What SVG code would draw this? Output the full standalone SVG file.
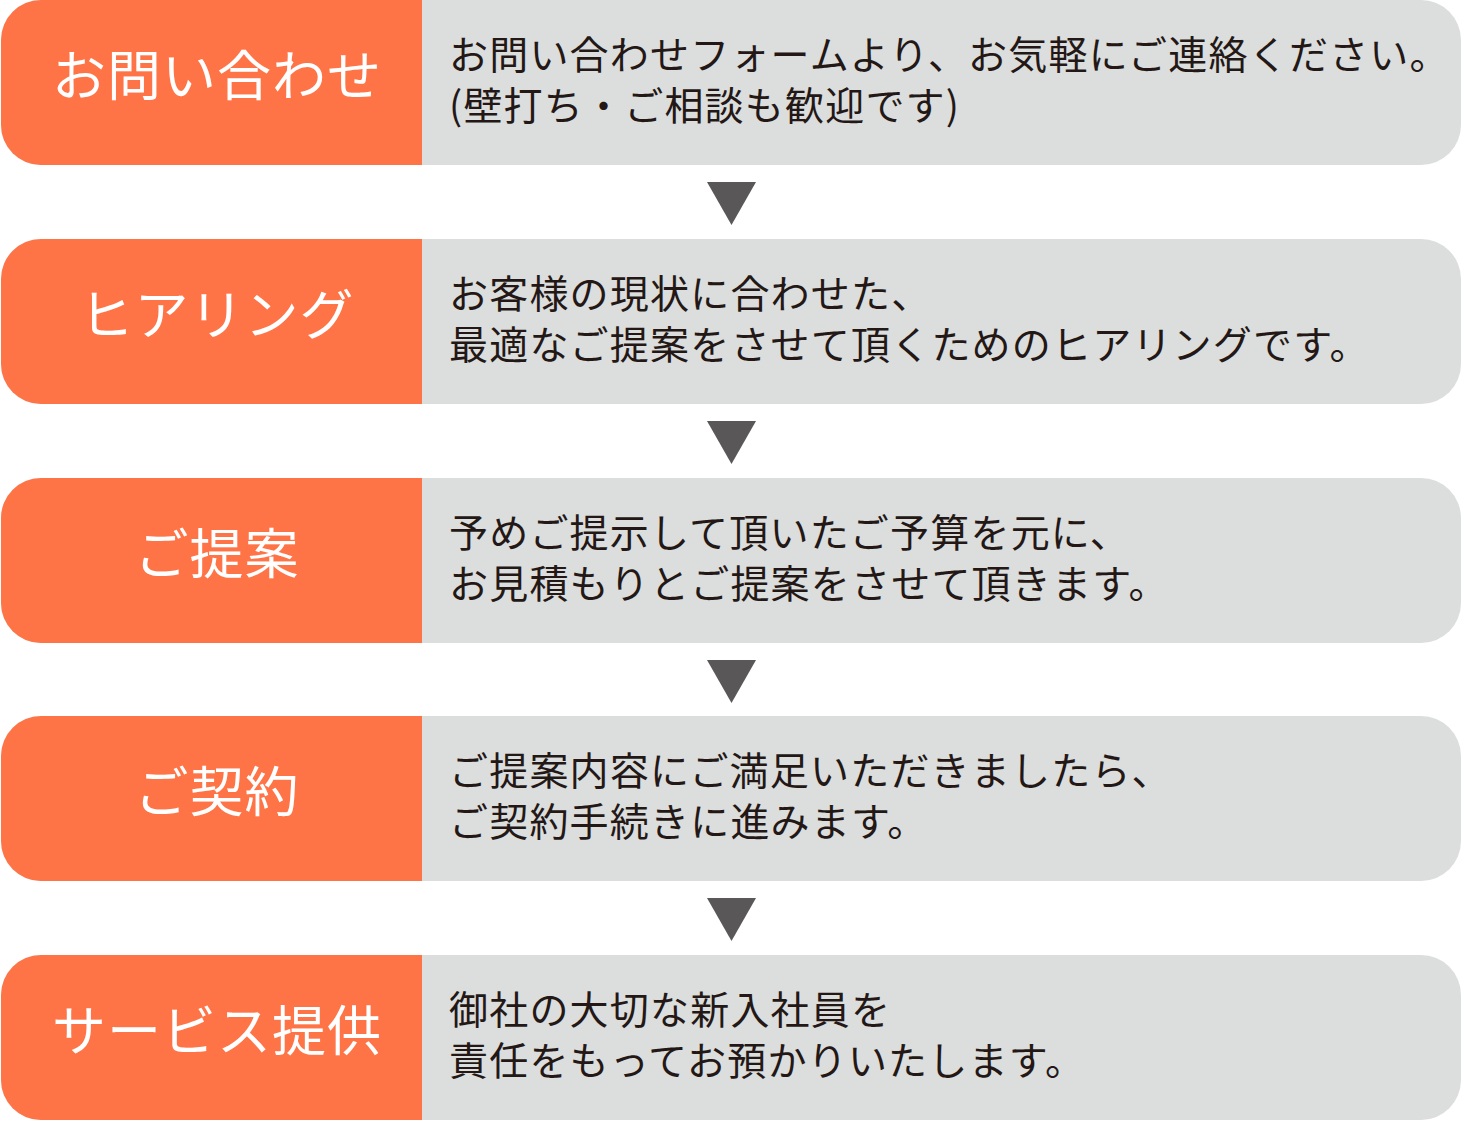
<svg xmlns="http://www.w3.org/2000/svg" width="1462" height="1121" viewBox="0 0 1462 1121">
<defs>
<style>
.bg{fill:#dcdddd}
.lab{fill:#ff7447}
.lt{font-family:"Noto Sans CJK JP","Noto Sans",sans-serif;font-size:54px;letter-spacing:1px;fill:#ffffff;text-anchor:middle}
.dt{font-family:"Noto Sans CJK JP","Noto Sans",sans-serif;font-size:39px;letter-spacing:1.2px;fill:#231815}
.arr{fill:#595757}
</style>
<path id="orange" d="M422,0 H41 A40,40 0 0 0 1,40 V125 A40,40 0 0 0 41,165 H422 Z"/>
</defs>
<g id="step1" transform="translate(0,0)">
<rect class="bg" x="1" y="0" width="1460" height="165" rx="40" ry="40"/>
<use href="#orange" class="lab"/>
<text class="lt" x="217" y="96">お問い合わせ</text>
<text class="dt" x="449" y="69">お問い合わせフォームより、お気軽にご連絡ください。</text>
<text class="dt" x="449" y="120">(壁打ち・ご相談も歓迎です)</text>
</g>
<g id="step2" transform="translate(0,239)">
<rect class="bg" x="1" y="0" width="1460" height="165" rx="40" ry="40"/>
<use href="#orange" class="lab"/>
<text class="lt" x="217" y="96">ヒアリング</text>
<text class="dt" x="449" y="69">お客様の現状に合わせた、</text>
<text class="dt" x="449" y="120">最適なご提案をさせて頂くためのヒアリングです。</text>
</g>
<g id="step3" transform="translate(0,478)">
<rect class="bg" x="1" y="0" width="1460" height="165" rx="40" ry="40"/>
<use href="#orange" class="lab"/>
<text class="lt" x="217" y="96">ご提案</text>
<text class="dt" x="449" y="69">予めご提示して頂いたご予算を元に、</text>
<text class="dt" x="449" y="120">お見積もりとご提案をさせて頂きます。</text>
</g>
<g id="step4" transform="translate(0,716)">
<rect class="bg" x="1" y="0" width="1460" height="165" rx="40" ry="40"/>
<use href="#orange" class="lab"/>
<text class="lt" x="217" y="96">ご契約</text>
<text class="dt" x="449" y="69">ご提案内容にご満足いただきましたら、</text>
<text class="dt" x="449" y="120">ご契約手続きに進みます。</text>
</g>
<g id="step5" transform="translate(0,955)">
<rect class="bg" x="1" y="0" width="1460" height="165" rx="40" ry="40"/>
<use href="#orange" class="lab"/>
<text class="lt" x="217" y="96">サービス提供</text>
<text class="dt" x="449" y="69">御社の大切な新入社員を</text>
<text class="dt" x="449" y="120">責任をもってお預かりいたします。</text>
</g>
<g id="connectors">
<polygon class="arr" points="707,182 756,182 731.5,225"/>
<polygon class="arr" points="707,421 756,421 731.5,464"/>
<polygon class="arr" points="707,660 756,660 731.5,703"/>
<polygon class="arr" points="707,898 756,898 731.5,941"/>
</g>
</svg>
